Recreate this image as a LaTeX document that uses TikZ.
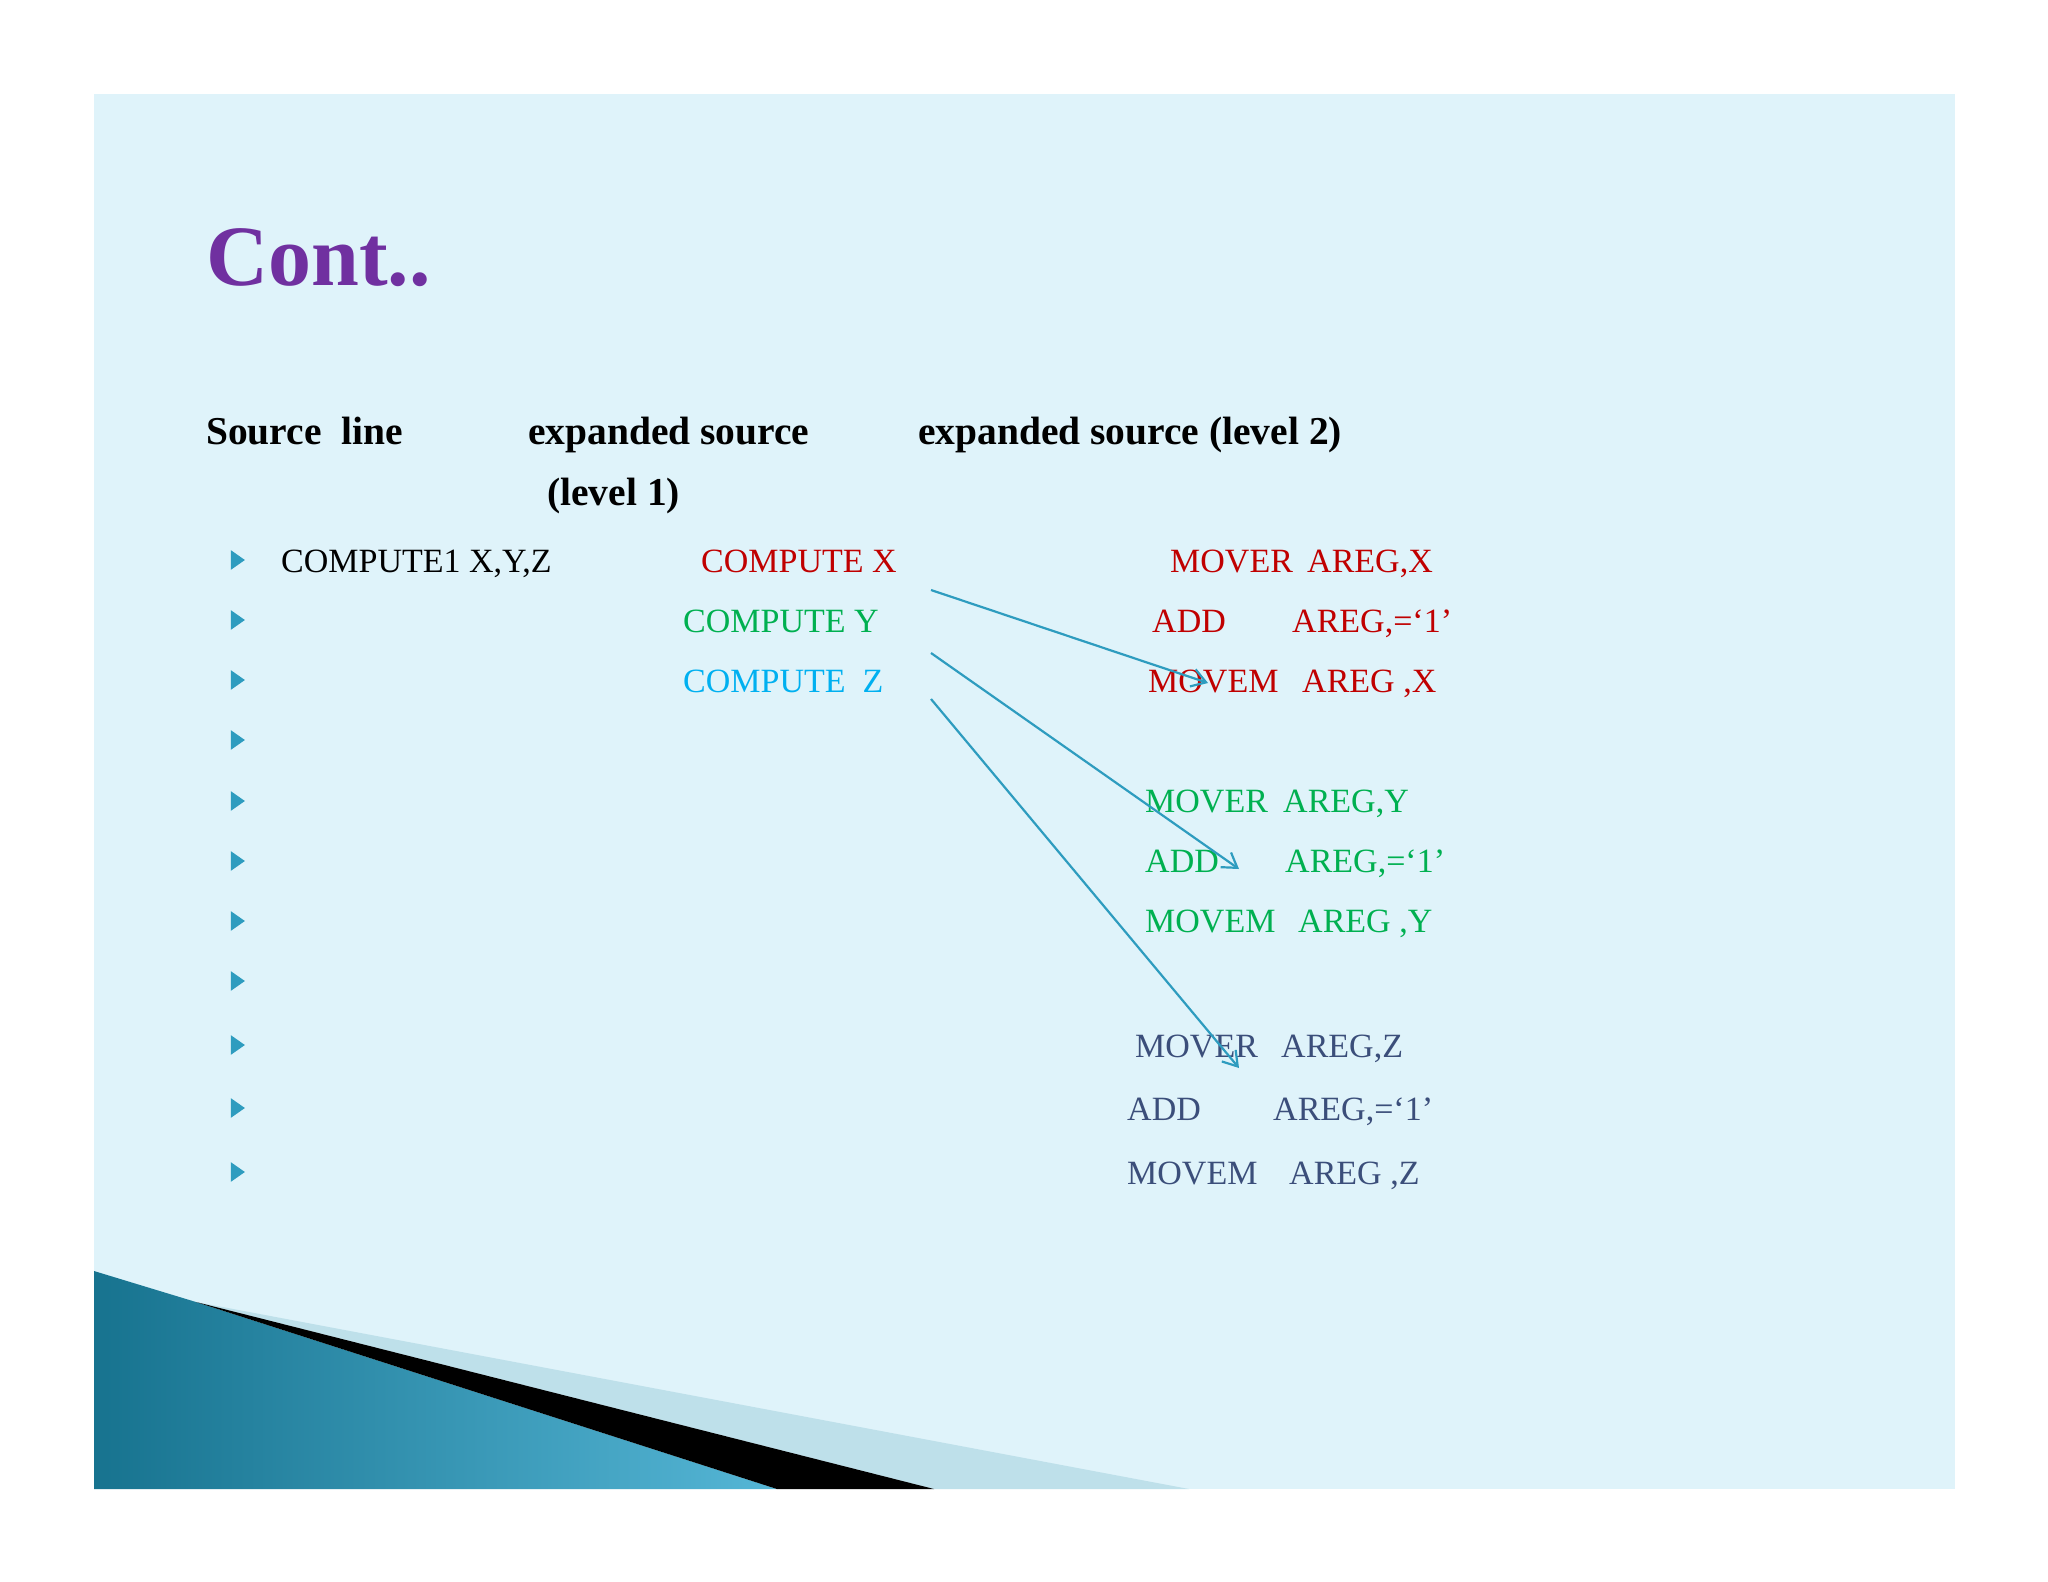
\documentclass[tikz,border=0pt]{standalone}
\usepackage{fontspec}
\setmainfont{Liberation Serif}
\usetikzlibrary{arrows.meta,shapes.geometric}
\definecolor{bg}{HTML}{DFF3FA}
\definecolor{tred}{HTML}{C00000}
\definecolor{tgreen}{HTML}{00B050}
\definecolor{tcyan}{HTML}{00B0F0}
\definecolor{tdark}{HTML}{3B4E7A}
\definecolor{arr}{HTML}{2E9CBF}
\definecolor{ttl}{HTML}{7030A0}
\definecolor{bul}{HTML}{2E9CBF}
\definecolor{bluedk}{HTML}{17738F}
\definecolor{bluelt}{HTML}{55B6D6}
\definecolor{band}{HTML}{BEE0EA}
\begin{document}
\begin{tikzpicture}[x=1pt,y=-1pt,
  txt/.style={anchor=base west,inner sep=0,font=\fontsize{34}{40}\selectfont},
  head/.style={anchor=base west,inner sep=0,font=\fontsize{39.5}{46}\selectfont\bfseries},
  conn/.style={arr,line width=2.2pt,-{Straight Barb[length=14pt,width=18pt]}},
  bullet/.style={fill=bul,draw=none,isosceles triangle,isosceles triangle apex angle=70,minimum height=14pt,inner sep=0}]
\useasboundingbox (0,0) rectangle (2048,1582);
\fill[white] (0,0) rectangle (2048,1582);
\fill[bg] (94,94) rectangle (1955,1489);
% decoration
\shade[left color=bluedk, right color=bluelt]
  (94,1271) .. controls (140,1285) .. (196,1302) -- (777,1489) -- (94,1489) -- cycle;
\fill[band] (196,1302) -- (1189,1489) -- (934,1489) -- cycle;
\fill[black] (196,1302) -- (934,1489) -- (777,1489) -- cycle;
% title
\node[anchor=base west,inner sep=0,text=ttl,font=\fontsize{86}{94}\selectfont\bfseries] (title) at (206,285) {Cont..};
% headings
\node[head] (h1) at (206,444) {Source\ \ line};
\node[head] (h2) at (528,444) {expanded source};
\node[head] (h2b) at (547,505) {(level 1)};
\node[head] (h3) at (918,444) {expanded source (level 2)};
% bullets
\foreach \y [count=\i] in {560,620,680,740,801,861,921,981,1045,1108,1172}
  \node[bullet] (b\i) at (236,\y) {};
% source
\node[txt] (src) at (281,572) {COMPUTE1 X,Y,Z};
\node[txt,text=tred] (cx) at (701,572) {COMPUTE X};
\node[txt,text=tgreen] (cy) at (683,632) {COMPUTE Y};
\node[txt,text=tcyan] (cz) at (683,692) {COMPUTE\ \ Z};
% level 2
\begin{scope}[every node/.append style={text=tred}]
\node[txt] (x1a) at (1170,572) {MOVER}; \node[txt] (x1b) at (1307,572) {AREG,X};
\node[txt] (x2a) at (1152,632) {ADD};   \node[txt] (x2b) at (1292,632) {AREG,=‘1’};
\node[txt] (x3a) at (1148,692) {MOVEM}; \node[txt] (x3b) at (1302,692) {AREG ,X};
\end{scope}
\begin{scope}[every node/.append style={text=tgreen}]
\node[txt] (y1a) at (1145,812) {MOVER}; \node[txt] (y1b) at (1283,812) {AREG,Y};
\node[txt] (y2a) at (1145,872) {ADD};   \node[txt] (y2b) at (1285,872) {AREG,=‘1’};
\node[txt] (y3a) at (1145,932) {MOVEM}; \node[txt] (y3b) at (1298,932) {AREG ,Y};
\end{scope}
\begin{scope}[every node/.append style={text=tdark}]
\node[txt] (z1a) at (1135,1057) {MOVER}; \node[txt] (z1b) at (1281,1057) {AREG,Z};
\node[txt] (z2a) at (1127,1120) {ADD};   \node[txt] (z2b) at (1273,1120) {AREG,=‘1’};
\node[txt] (z3a) at (1127,1184) {MOVEM}; \node[txt] (z3b) at (1289,1184) {AREG ,Z};
\end{scope}
% arrows
\coordinate (s1) at (931,590); \coordinate (e1) at (1208,683);
\coordinate (s2) at (931,653); \coordinate (e2) at (1239,869);
\coordinate (s3) at (931,699); \coordinate (e3) at (1239,1068);
\draw[conn] (s1) -- (e1);
\draw[conn] (s2) -- (e2);
\draw[conn] (s3) -- (e3);
\end{tikzpicture}
\end{document}
